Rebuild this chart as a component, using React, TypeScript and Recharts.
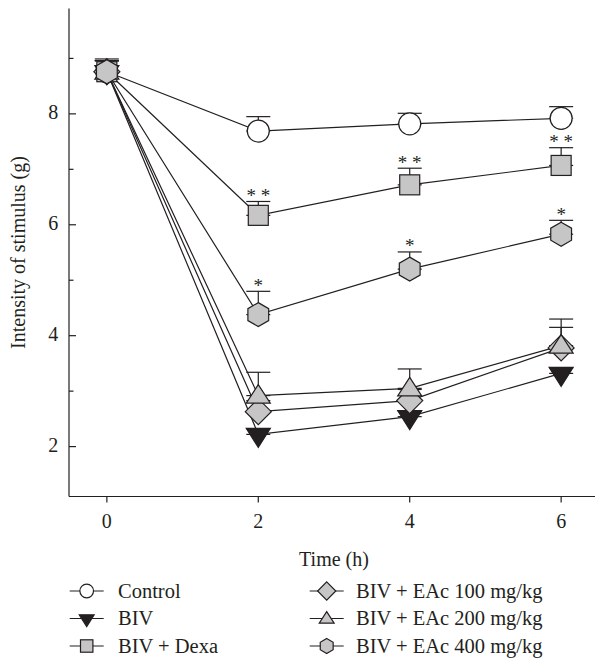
import React from 'react';
import { LineChart, Line, XAxis, YAxis, ErrorBar } from 'recharts';

// time-course of mechanical threshold, means with upper error bars

const FONT = 'Liberation Serif, DejaVu Serif, Noto Serif, serif';
const INK = '#231f20';
const GRAY = '#c6c6c6';

const times = [0, 2, 4, 6];
const xTicks = [0, 2, 4, 6];
const yTicks = [2, 3, 4, 5, 6, 7, 8, 9];

const control = [8.76, 7.69, 7.82, 7.92];
const controlErr = [0.23, 0.26, 0.19, 0.21];
const biv = [8.76, 2.22, 2.54, 3.32];
const bivErr = [0.2, 0.1, 0.1, 0.1];
const dexa = [8.76, 6.17, 6.72, 7.07];
const dexaErr = [0.2, 0.25, 0.3, 0.32];
const eac100 = [8.76, 2.63, 2.83, 3.78];
const eac100Err = [0.2, 0.2, 0.2, 0.37];
const eac200 = [8.76, 2.92, 3.05, 3.82];
const eac200Err = [0.2, 0.42, 0.35, 0.48];
const eac400 = [8.76, 4.38, 5.2, 5.83];
const eac400Err = [0.2, 0.42, 0.31, 0.25];

const dexaSig = ['', '* *', '* *', '* *'];
const eac400Sig = ['', '*', '*', '*'];

type Kind = 'circle' | 'down' | 'square' | 'diamond' | 'up' | 'hexagon';

interface Series {
  key: string;
  name: string;
  values: number[];
  err: number[];
  kind: Kind;
}

const series: Series[] = [
  { key: 'control', name: 'Control', values: control, err: controlErr, kind: 'circle' },
  { key: 'biv', name: 'BIV', values: biv, err: bivErr, kind: 'down' },
  { key: 'dexa', name: 'BIV + Dexa', values: dexa, err: dexaErr, kind: 'square' },
  { key: 'eac100', name: 'BIV + EAc 100 mg/kg', values: eac100, err: eac100Err, kind: 'diamond' },
  { key: 'eac200', name: 'BIV + EAc 200 mg/kg', values: eac200, err: eac200Err, kind: 'up' },
  { key: 'eac400', name: 'BIV + EAc 400 mg/kg', values: eac400, err: eac400Err, kind: 'hexagon' },
];

const data = times.map((t, i) => {
  const row: Record<string, any> = { t };
  series.forEach((s) => {
    row[s.key] = s.values[i];
    row[s.key + 'Err'] = [0, s.err[i]];
  });
  row.dexaCap = dexa[i] + dexaErr[i];
  row.eac400Cap = eac400[i] + eac400Err[i];
  return row;
});

function Marker({ kind, cx, cy, s = 1 }: { kind: Kind; cx: number; cy: number; s?: number }) {
  const line = { stroke: INK, strokeWidth: 1.2 };
  const pts = (arr: number[][]) => arr.map(([x, y]) => `${cx + x * s},${cy + y * s}`).join(' ');
  switch (kind) {
    case 'circle':
      return <circle cx={cx} cy={cy} r={11 * s} fill="#fff" {...line} />;
    case 'down':
      return <polygon points={pts([[-12, -6], [12, -6], [0, 13]])} fill={INK} {...line} />;
    case 'square':
      return <rect x={cx - 10 * s} y={cy - 10 * s} width={20 * s} height={20 * s} fill={GRAY} {...line} />;
    case 'diamond':
      return <polygon points={pts([[0, -13], [13, 0], [0, 13], [-13, 0]])} fill={GRAY} {...line} />;
    case 'up':
      return <polygon points={pts([[0, -11], [12, 7.5], [-12, 7.5]])} fill={GRAY} {...line} />;
    default: {
      const hex = [0, 1, 2, 3, 4, 5].map((k) => {
        const a = ((-90 + 60 * k) * Math.PI) / 180;
        return [12 * Math.cos(a), 12 * Math.sin(a)];
      });
      return <polygon points={pts(hex)} fill={GRAY} {...line} />;
    }
  }
}

function YTick(props: any) {
  const { x, y, payload } = props;
  const v = payload.value;
  const major = v % 2 === 0;
  return (
    <g>
      <line x1={x} y1={y} x2={x + (major ? 7 : 4.5)} y2={y} stroke={INK} strokeWidth={1.2} />
      {major && (
        <text x={x - 10.7} y={y + 5.5} textAnchor="end" style={{ fontSize: 20, fontFamily: FONT }} fill={INK}>
          {v}
        </text>
      )}
    </g>
  );
}

const starLabel = (sig: string[], prefix: string) => (p: any) => (
  <text
    key={`${prefix}-${p.index}`}
    x={p.x}
    y={p.y + 0.5}
    textAnchor="middle"
    style={{ fontSize: 19, fontFamily: FONT }}
    fill={INK}
  >
    {sig[p.index]}
  </text>
);

const legendRows = [591, 618.5, 646];

function LegendOverlay() {
  return (
    <svg width={595} height={658} style={{ position: 'absolute', left: 0, top: 0, pointerEvents: 'none' }}>
      {series.map((s, i) => {
        const col = i < 3 ? 0 : 1;
        const cx = col === 0 ? 86.7 : 326.7;
        const tx = col === 0 ? 118 : 356;
        const cy = legendRows[i % 3];
        return (
          <g key={s.key}>
            <line x1={cx - 17} y1={cy} x2={cx + 17} y2={cy} stroke={INK} strokeWidth={1.2} />
            <Marker kind={s.kind} cx={cx} cy={cy} s={s.kind === 'diamond' ? 0.7 : 0.62} />
            <text x={tx} y={cy + 6.6} style={{ fontSize: 20.5, fontFamily: FONT }} fill={INK}>
              {s.name}
            </text>
          </g>
        );
      })}
    </svg>
  );
}

export default function App() {
  return (
    <div
      style={{
        position: 'absolute',
        left: 0,
        top: 0,
        width: 595,
        height: 658,
        overflow: 'hidden',
        background: '#fff',
        fontFamily: FONT,
      }}
    >
      <LineChart width={599} height={658} data={data} margin={{ top: 8.5, right: 0, left: 9, bottom: 91.5 }}>
        <XAxis
          dataKey="t"
          type="number"
          domain={[-0.5, 6.5]}
          ticks={xTicks}
          interval={0}
          height={70}
          tickSize={6}
          tickMargin={11}
          axisLine={{ stroke: INK, strokeWidth: 1.2 }}
          tickLine={{ stroke: INK, strokeWidth: 1.2 }}
          tick={{ fill: INK, style: { fontSize: 20, fontFamily: FONT } }}
          label={{
            value: 'Time (h)',
            position: 'insideBottom',
            offset: 1,
            fill: INK,
            style: { fontSize: 20, fontFamily: FONT, fontWeight: 400 },
          }}
        />
        <YAxis
          type="number"
          domain={[1.1, 9.9]}
          ticks={yTicks}
          interval={0}
          width={60}
          tickSize={0}
          tickMargin={0}
          tickLine={false}
          axisLine={{ stroke: INK, strokeWidth: 1.2 }}
          tick={<YTick />}
          label={{
            value: 'Intensity of stimulus (g)',
            angle: -90,
            position: 'insideLeft',
            offset: 9,
            fill: INK,
            style: { textAnchor: 'middle', fontSize: 20, fontFamily: FONT, fontWeight: 400 },
          }}
        />
        {series.map((s) => (
          <Line
            key={s.key}
            dataKey={s.key}
            name={s.name}
            type="linear"
            stroke={INK}
            strokeWidth={1.2}
            isAnimationActive={false}
            activeDot={false}
            dot={(p: any) => <Marker key={`${s.key}-${p.index}`} kind={s.kind} cx={p.cx} cy={p.cy} />}
          >
            <ErrorBar
              dataKey={s.key + 'Err'}
              direction="y"
              width={12}
              stroke={INK}
              strokeWidth={1.2}
              isAnimationActive={false}
            />
          </Line>
        ))}
        <Line
          dataKey="dexaCap"
          stroke="none"
          dot={false}
          activeDot={false}
          isAnimationActive={false}
          legendType="none"
          label={starLabel(dexaSig, 'dexa')}
        />
        <Line
          dataKey="eac400Cap"
          stroke="none"
          dot={false}
          activeDot={false}
          isAnimationActive={false}
          legendType="none"
          label={starLabel(eac400Sig, 'eac400')}
        />
      </LineChart>
      <LegendOverlay />
    </div>
  );
}
